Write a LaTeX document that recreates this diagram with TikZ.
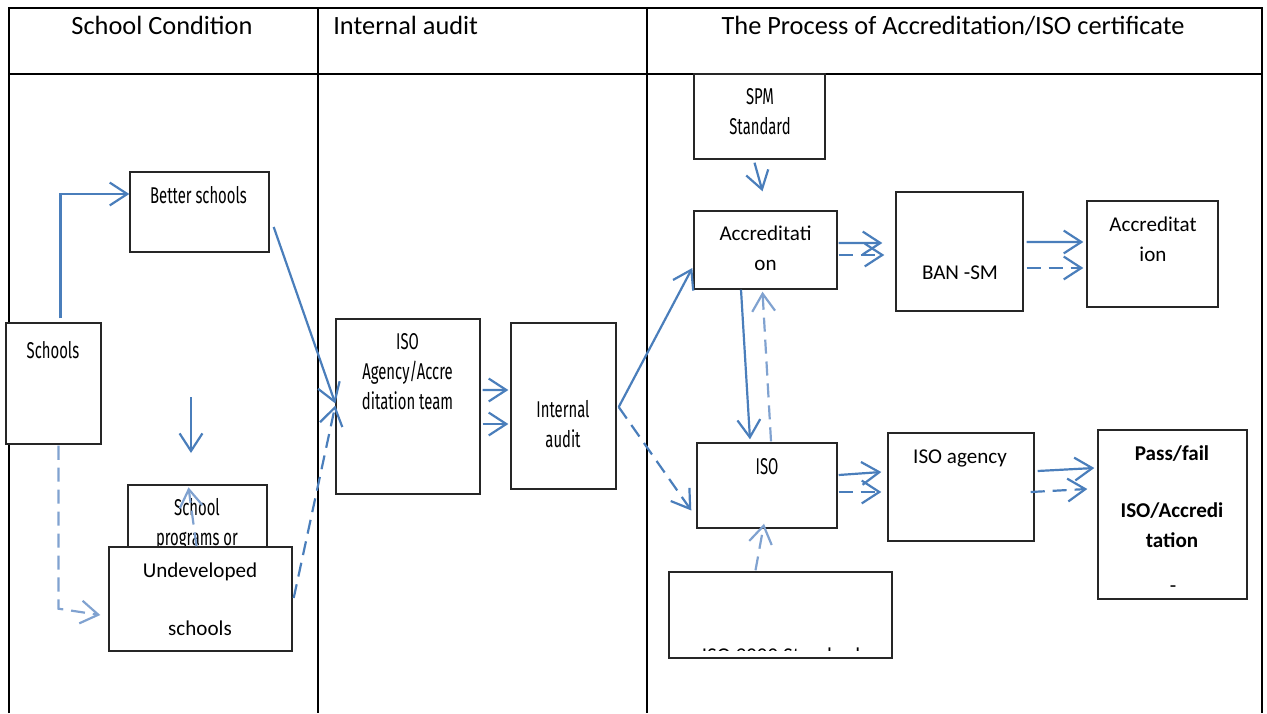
\documentclass[tikz,border=0pt]{standalone}
\usepackage{fontspec}
\setmainfont{Carlito}
\newfontfamily\agencyfont[FakeStretch=0.65]{Fira Sans}
\usetikzlibrary{positioning,arrows.meta,calc,fit}
\definecolor{flowblue}{RGB}{74,126,187}
\definecolor{paleblue}{RGB}{128,162,208}

\begin{document}
\begin{tikzpicture}[
    x=0.02cm, y=-0.02cm,
    frame/.style={line width=1.3pt, black},
    box/.style={rectangle, draw=black!85, line width=0.8pt, inner sep=0pt, fill=white},
    txt/.style={font=\fontsize{12}{17}\selectfont, align=center, anchor=base, inner sep=0pt},
    cond/.style={font=\agencyfont\fontsize{13}{16.8}\selectfont, align=center, anchor=base, inner sep=0pt},
    head/.style={font=\fontsize{15}{18}\selectfont, anchor=base, inner sep=0pt},
    arrow/.style={-{Straight Barb[length=10pt,width=13pt]}, line width=1.25pt, flowblue},
    dasharrow/.style={arrow, dash pattern=on 8pt off 4.5pt},
    palearrow/.style={dasharrow, paleblue}
  ]
  \useasboundingbox (0,0) rectangle (1267,713);

  % ----- Table frame and headings -----
  \draw[frame] (9,713) -- (9,8) -- (1262,8) -- (1262,713);
  \draw[frame] (9,74) -- (1262,74);
  \draw[frame] (318,8) -- (318,713);
  \draw[frame] (647,8) -- (647,713);
  \node[head] (h-cond)  at (162,35) {School Condition};
  \node[head, anchor=base west] (h-audit) at (333,35) {Internal audit};
  \node[head] (h-proc)  at (953,35) {The Process of Accreditation/ISO certificate};

  % ----- School condition column -----
  % (multi-line texts sit on the baseline of their last line)
  \node[box, fit={(130,172) (269,252)}] (better) {};
  \node[box, fit={(6,323) (101,444)}]   (schools) {};
  \node[box, fit={(128,485) (267,560)}] (programs) {};
  \node[cond] (better-t)   at (198.5,203) {Better schools};
  \node[cond] (schools-t)  at (53,358)    {Schools};
  \node[cond] (programs-t) at (197,545)   {School\\programs or};
  \node[box, fit={(109,547) (292,651)}] (undev) {};
  \node[txt]  (undev-t)    at (200,635)   {Undeveloped\\[15.5pt]schools};

  % ----- Internal audit column -----
  \node[box, fit={(336,319) (480,494)}] (agency) {};
  \node[box, fit={(511,323) (616,489)}] (audit) {};
  \node[cond] (agency-t) at (407.5,409) {ISO\\Agency/Accre\\ditation team};
  \node[cond] (audit-t)  at (563,447)   {Internal\\audit};

  % ----- Accreditation / ISO column -----
  \node[box, fit={(694,74) (825,159)}]    (spm) {};
  \node[box, fit={(694,211) (837,289)}]   (acc) {};
  \node[box, fit={(896,192) (1023,311)}]  (ban) {};
  \node[box, fit={(1087,201) (1218,307)}] (acc2) {};
  \node[box, fit={(697,443) (837,528)}]   (iso) {};
  \node[box, fit={(888,433) (1034,541)}]  (isoag) {};
  \node[box, fit={(1098,430) (1247,599)}] (pass) {};
  \node[box, fit={(669,572) (892,658)}]   (iso9) {};
  \node[cond] (spm-t)   at (760,134)   {SPM\\Standard};
  \node[txt]  (acc-t)   at (765.5,270) {Accreditati\\on};
  \node[txt]  (ban-t)   at (960,279)   {BAN -SM};
  \node[txt]  (acc2-t)  at (1153,261)  {Accreditat\\ion};
  \node[cond] (iso-t)   at (767,474)   {ISO};
  \node[txt]  (isoag-t) at (960,463)   {ISO agency};
  \node[txt, font=\bfseries\fontsize{12}{17}\selectfont] (pass-t) at (1172,547)
        {Pass/fail\\[15pt]ISO/Accredi\\tation};
  \node[txt]  (pass-m)  at (1173,592)  {-};
  \begin{scope}
    \clip (670,600) rectangle (891,650);
    \node[txt] (iso9-t) at (781,662) {ISO 9000 Standard};
  \end{scope}

  % ----- Connectors -----
  \coordinate (drop-a) at (191,397);
  \coordinate (drop-b) at (191,453);
  \draw[arrow] ($(schools.north)+(7,-4)$) |- ($(better.west)+(0,-18)$);
  \draw[palearrow] ($(schools.south)+(5,1)$) -- ++(0,163) -- ($(undev.west)+(-8,16)$);
  \draw[arrow] (drop-a) -- (drop-b);
  \draw[palearrow] ($(undev.north)+(-4,0)$) -- ($(programs.north)+(-9,3)$);
  \draw[arrow] ($(better.east)+(4,15)$) -- ($(agency.west)+(0,-3)$);
  \draw[dasharrow] ($(undev.east)+(1,-1)$) -- ($(agency.west)+(0,-1)$);
  \draw[arrow] ($(agency.east)+(2,-16.5)$) -- ($(audit.west)+(-2,-16)$);
  \draw[arrow] ($(agency.east)+(2,17.5)$) -- ($(audit.west)+(-2,18)$);
  \draw[arrow] ($(audit.east)+(2,1)$) -- ($(acc.west)+(-1,18)$);
  \draw[dasharrow] ($(audit.east)+(2,1)$) -- ($(iso.west)+(-5,25)$);
  \draw[arrow] ($(spm.south)+(-5,3)$) -- ($(acc.north)+(-3,-19)$);
  \draw[arrow] ($(acc.south)+(-24.5,0)$) -- ($(iso.north)+(-17,-3)$);
  \draw[palearrow] ($(iso.north)+(4,-1)$) -- ($(acc.south)+(-3,2)$);
  \draw[arrow] ($(acc.east)+(1,-7)$) -- ($(ban.west)+(-13,-8.5)$);
  \draw[dasharrow] ($(acc.east)+(1,5)$) -- ($(ban.west)+(-11,3.5)$);
  \draw[arrow] ($(ban.east)+(3,-9.5)$) -- ($(acc2.west)+(-3,-12)$);
  \draw[dasharrow] ($(ban.east)+(3,16.5)$) -- ($(acc2.west)+(-3,14)$);
  \draw[arrow] ($(iso.east)+(1,-10.5)$) -- ($(isoag.west)+(-6,-15)$);
  \draw[dasharrow] ($(iso.east)+(1,6.5)$) -- ($(isoag.west)+(-6,5)$);
  \draw[arrow] ($(isoag.east)+(3,-16)$) -- ($(pass.west)+(-3,-46.5)$);
  \draw[dasharrow] ($(isoag.east)+(-4,5)$) -- ($(pass.west)+(-10,-25.5)$);
  \draw[palearrow] ($(iso9.north)+(-25,-1)$) -- ($(iso.south)+(-3,-5)$);
\end{tikzpicture}
\end{document}
